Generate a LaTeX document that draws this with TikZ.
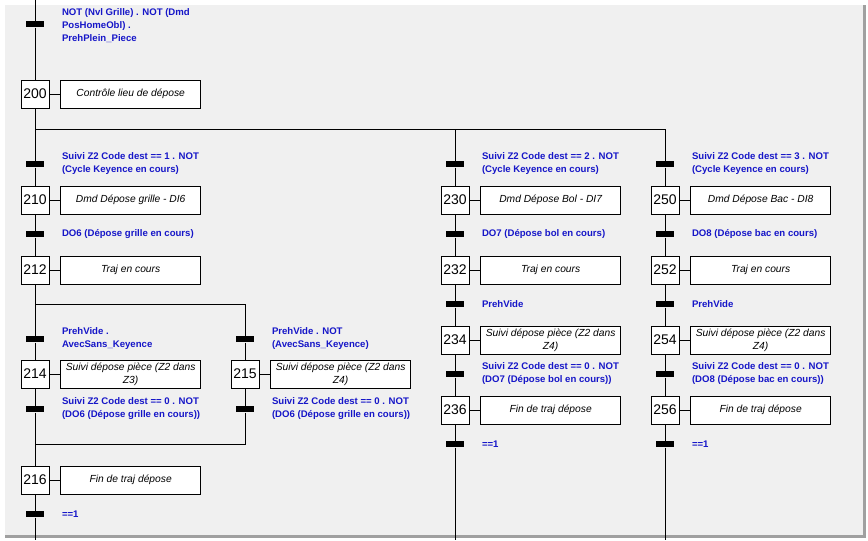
\documentclass[tikz,border=0pt]{standalone}
\usepackage{fontspec}
\setmainfont{Liberation Sans}
\usetikzlibrary{positioning}
\definecolor{fondgris}{RGB}{240,240,240}
\definecolor{bordgris}{RGB}{160,160,160}
\definecolor{recbleu}{RGB}{22,22,200}
\tikzset{
  etape/.style={draw, fill=white, minimum width=21pt, minimum height=21pt, inner sep=0pt,
    font=\fontsize{10.5}{10.5}\selectfont},
  action/.style={draw, fill=white, minimum width=105pt, minimum height=21pt, inner sep=1pt,
    align=center, font=\fontsize{7.7}{10}\selectfont\itshape, right=8pt of #1},
  trans/.style={fill=black, minimum width=13.5pt, minimum height=4.5pt, inner sep=0pt},
  recept/.style={text=recbleu, align=left, inner sep=0pt,
    font=\fontsize{7.2}{9.75}\selectfont\bfseries, right=12.75pt of #1},
}

\begin{document}
\begin{tikzpicture}[x=0.75pt, y=-0.75pt, line width=0.75pt]
    % Cadre de la fenetre
    \useasboundingbox (0,0) rectangle (868,540);
    \fill[white] (0,0) rectangle (868,540);
    \fill[fondgris] (5,5) rectangle (863,535);
    \fill[bordgris] (863,5) rectangle (866,538);
    \fill[bordgris] (5,535) rectangle (866,538);
    % Colonne grille
    \coordinate (haut1) at (35,0);
    \node[trans] (t200) at (35,24) {};
    \node[recept=t200, yshift=-1.5pt] (r200) {NOT (Nvl Grille) . NOT (Dmd\\PosHomeObl) .\\PrehPlein\_Piece};
    \node[etape] (s200) at (35,94) {200};
    \node[action=s200] (a200) {Contrôle lieu de dépose};
    \coordinate (div1) at (35,129);
    \coordinate (div3) at (665,129);
    \node[trans] (t210) at (35,164) {};
    \node[recept=t210] (r210) {Suivi Z2 Code dest == 1 . NOT\\(Cycle Keyence en cours)};
    \node[etape] (s210) at (35,200) {210};
    \node[action=s210] (a210) {Dmd Dépose grille - DI6};
    \node[trans] (t212) at (35,234) {};
    \node[recept=t212] (r212) {DO6 (Dépose grille en cours)};
    \node[etape] (s212) at (35,270) {212};
    \node[action=s212] (a212) {Traj en cours};
    \coordinate (div4) at (35,304);
    \coordinate (div5) at (245,304);
    \node[trans] (t214) at (35,339) {};
    \node[recept=t214] (r214) {PrehVide .\\AvecSans\_Keyence};
    \node[etape] (s214) at (35,374) {214};
    \node[action=s214] (a214) {Suivi dépose pièce (Z2 dans\\Z3)};
    \node[trans] (t216a) at (35,409) {};
    \node[recept=t216a] (r216a) {Suivi Z2 Code dest == 0 . NOT\\(DO6 (Dépose grille en cours))};
    \node[trans] (t215) at (245,339) {};
    \node[recept=t215] (r215) {PrehVide . NOT\\(AvecSans\_Keyence)};
    \node[etape] (s215) at (245,374) {215};
    \node[action=s215] (a215) {Suivi dépose pièce (Z2 dans\\Z4)};
    \node[trans] (t216b) at (245,409) {};
    \node[recept=t216b] (r216b) {Suivi Z2 Code dest == 0 . NOT\\(DO6 (Dépose grille en cours))};
    \coordinate (conv4) at (35,444);
    \coordinate (conv5) at (245,444);
    \node[etape] (s216) at (35,480) {216};
    \node[action=s216] (a216) {Fin de traj dépose};
    \node[trans] (f216) at (35,514) {};
    \node[recept=f216] (rf216) {==1};
    \coordinate (bas1) at (35,540);
    \draw (haut1) -- (t200) -- (s200) -- (t210) -- (s210) -- (t212) -- (s212) -- (t214)
        -- (s214) -- (t216a) -- (s216) -- (f216) -- (bas1);
    \draw (div1) -- (div3);
    \draw (div4) -- (div5) -- (t215) -- (s215) -- (t216b) -- (conv5) -- (conv4);
    % Colonnes bol et bac
    \foreach \x/\n/\d/\c/\M/\m in {455/23/7/2/Bol/bol, 665/25/8/3/Bac/bac} {
        \coordinate (div\n) at (\x,129);
        \node[trans] (t\n0) at (\x,164) {};
        \node[recept=t\n0] (r\n0) {Suivi Z2 Code dest == \c{} . NOT\\(Cycle Keyence en cours)};
        \node[etape] (s\n0) at (\x,200) {\n0};
        \node[action=s\n0] (a\n0) {Dmd Dépose \M{} - DI\d};
        \node[trans] (t\n2) at (\x,234) {};
        \node[recept=t\n2] (r\n2) {DO\d{} (Dépose \m{} en cours)};
        \node[etape] (s\n2) at (\x,270) {\n2};
        \node[action=s\n2] (a\n2) {Traj en cours};
        \node[trans] (t\n4) at (\x,304) {};
        \node[recept=t\n4] (r\n4) {PrehVide};
        \node[etape] (s\n4) at (\x,340) {\n4};
        \node[action=s\n4] (a\n4) {Suivi dépose pièce (Z2 dans\\Z4)};
        \node[trans] (t\n6) at (\x,374) {};
        \node[recept=t\n6] (r\n6) {Suivi Z2 Code dest == 0 . NOT\\(DO\d{} (Dépose \m{} en cours))};
        \node[etape] (s\n6) at (\x,410) {\n6};
        \node[action=s\n6] (a\n6) {Fin de traj dépose};
        \node[trans] (f\n6) at (\x,444) {};
        \node[recept=f\n6] (rf\n6) {==1};
        \coordinate (bas\n) at (\x,540);
        \draw (div\n) -- (t\n0) -- (s\n0) -- (t\n2) -- (s\n2) -- (t\n4) -- (s\n4) -- (t\n6)
            -- (s\n6) -- (f\n6) -- (bas\n);
    }
    % Liaisons etape - action
    \foreach \s in {200,210,212,214,215,216,230,232,234,236,250,252,254,256} {
        \draw (s\s) -- (a\s);
    }
\end{tikzpicture}
\end{document}
